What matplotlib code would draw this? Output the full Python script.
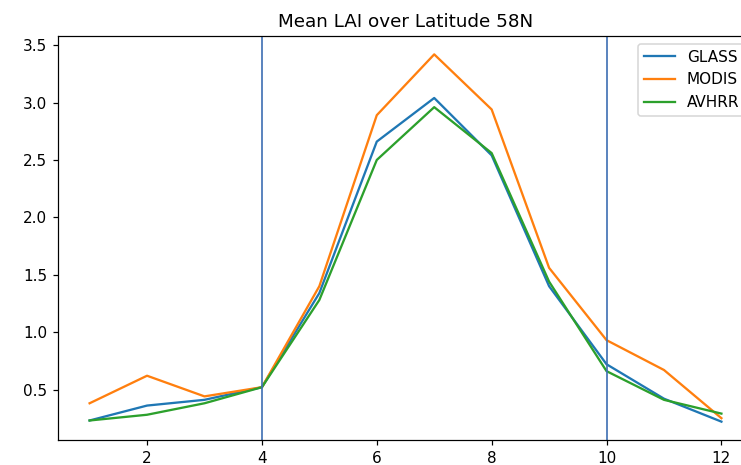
import numpy as np
import matplotlib
matplotlib.use("Agg")
import matplotlib.pyplot as plt

# monthly mean LAI at 58N
months = np.arange(1, 13)
glass = [0.23, 0.36, 0.41, 0.52, 1.34, 2.66, 3.04, 2.54, 1.40, 0.72, 0.42, 0.22]
modis = [0.38, 0.62, 0.44, 0.52, 1.40, 2.89, 3.42, 2.94, 1.56, 0.93, 0.67, 0.25]
avhrr = [0.23, 0.28, 0.38, 0.52, 1.28, 2.50, 2.96, 2.56, 1.44, 0.66, 0.41, 0.29]
season_bounds = [4, 10]

dpi = 110
fig = plt.figure(figsize=(741/dpi, 465/dpi), dpi=dpi)
# axes run a little past the right edge of the saved image
ax = fig.add_axes([58/741, 25/465, 695/741, 404/465])

ax.plot(months, glass, label='GLASS')
ax.plot(months, modis, label='MODIS')
ax.plot(months, avhrr, label='AVHRR')
for b in season_bounds:
    ax.axvline(b, color='#3f70b3', linewidth=1.1)

ax.set_xlim(0.45, 12.55)
ax.set_ylim(0.06, 3.58)
ax.set_xticks([2, 4, 6, 8, 10, 12])
ax.set_title('Mean LAI over Latitude 58N', fontsize=12)
ax.legend(loc='upper right')

fig.savefig('out.png', dpi=dpi)
